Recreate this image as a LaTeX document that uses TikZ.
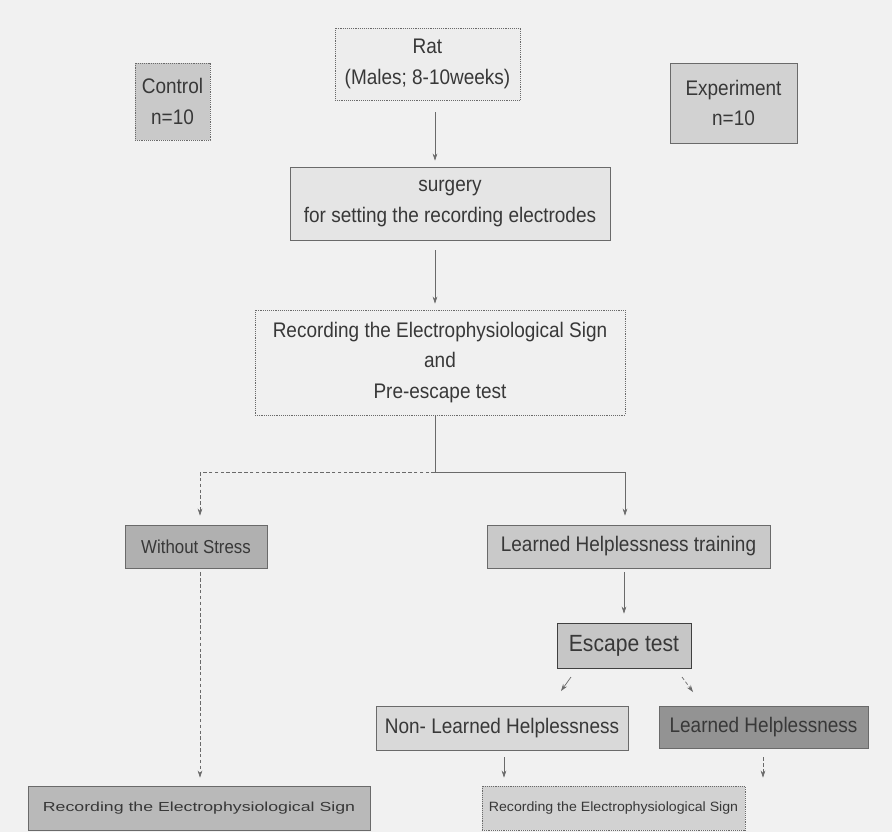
\documentclass[tikz,border=0pt]{standalone}
\usepackage{fontspec}
\setmainfont[FakeStretch=0.9]{Liberation Sans}
\newfontfamily\wideF[FakeStretch=1.35]{Liberation Sans}
\newfontfamily\midF[FakeStretch=1.05]{Liberation Sans}
\usetikzlibrary{arrows.meta}
\definecolor{bgc}{HTML}{F1F1F1}
\definecolor{txt}{HTML}{383838}
\definecolor{edge}{HTML}{6A6A6A}
\begin{document}
\begin{tikzpicture}[x=0.03cm,y=-0.03cm,
  box/.style={draw=edge, line width=0.6pt, text=txt, align=center, inner sep=2pt,
    font=\fontsize{18}{26}\selectfont},
  arr/.style={draw=edge, line width=0.6pt, -{Stealth[length=6pt,width=4pt]}},
  arrd/.style={arr, densely dashed}]
\fill[bgc] (0,0) rectangle (892,832);
\useasboundingbox (0,0) rectangle (892,832);

\node[box, densely dotted, fill=gray!42, minimum width=2.25cm, minimum height=2.31cm] (ctrl) at (172.5,101.5) {\fontsize{18}{29}\selectfont Control\\n=10};
\node[box, densely dotted, fill=gray!14, minimum width=5.55cm, minimum height=2.16cm] (rat) at (427.5,64) {Rat\\(Males; 8-10weeks)};
\node[box, fill=gray!35, minimum width=3.81cm, minimum height=2.4cm] (exp) at (733.5,103) {\fontsize{18}{29}\selectfont Experiment\\n=10};
\node[box, fill=gray!20, minimum width=9.6cm, minimum height=2.19cm] (surg) at (450,203.5) {surgery\\for setting the recording electrodes};
\node[box, densely dotted, fill=gray!12, minimum width=11.1cm, minimum height=3.15cm] (rec) at (440,362.5) {Recording the Electrophysiological Sign\\and\\Pre-escape test};
\node[box, fill=gray!62, minimum width=4.26cm, minimum height=1.29cm] (ws) at (196,546.5) {\fontsize{16}{18}\selectfont Without Stress};
\node[box, fill=gray!42, minimum width=8.49cm, minimum height=1.29cm] (lht) at (628.5,546.5) {Learned Helplessness training};
\node[box, draw=black!75, fill=gray!45, minimum width=4.02cm, minimum height=1.35cm] (esc) at (624,645.5) {\fontsize{20}{22}\selectfont Escape test};
\node[box, fill=gray!30, minimum width=7.56cm, minimum height=1.32cm] (nlh) at (502,728) {Non- Learned Helplessness};
\node[box, fill=gray!85, minimum width=6.27cm, minimum height=1.26cm] (lh) at (763.5,727) {Learned Helplessness};
\node[box, densely dotted, fill=gray!35, minimum width=7.89cm, minimum height=1.32cm] (brec) at (613.5,808) {\midF\fontsize{11.5}{14}\selectfont Recording the Electrophysiological Sign};
\node[box, fill=gray!55, minimum width=10.26cm, minimum height=1.32cm] (blrec) at (199,808) {\wideF\fontsize{11.2}{14}\selectfont Recording the Electrophysiological Sign};

% main column
\coordinate (ax) at (435,0);
\draw[arr, shorten <=12*0.03cm, shorten >=6*0.03cm] (rat.south -| ax) -- (surg.north -| ax);
\draw[arr, shorten <=10*0.03cm, shorten >=6*0.03cm] (surg.south -| ax) -- (rec.north -| ax);

% branch
\coordinate (bj) at (435,472);
\coordinate (bl) at (200,472);
\coordinate (br) at (625,472);
\draw[draw=edge, line width=0.6pt] (rec.south -| bj) -- (bj);
\draw[draw=edge, line width=0.6pt, densely dashed] (bj) -- (bl);
\draw[draw=edge, line width=0.6pt] (bj) -- (br);
\draw[arrd, shorten >=9*0.03cm] (bl) -- (bl |- ws.north);
\draw[arr, shorten >=9*0.03cm] (br) -- (br |- lht.north);

% right chain
\draw[arr, shorten <=4*0.03cm, shorten >=9*0.03cm] (lht.south -| esc) -- (esc.north);
\coordinate (d1s) at (571,677);
\coordinate (d1e) at (561,691);
\coordinate (d2s) at (682,677);
\coordinate (d2e) at (693,692);
\draw[arr] (d1s) -- (d1e);
\draw[arrd] (d2s) -- (d2e);
\draw[arr, shorten <=7*0.03cm, shorten >=8*0.03cm] (nlh.south -| 504,0) -- (brec.north -| 504,0);
\draw[arrd, shorten <=9*0.03cm, shorten >=8*0.03cm] (lh.south -| 763,0) -- (brec.north -| 763,0);

% left chain
\draw[arrd, shorten <=4*0.03cm, shorten >=8*0.03cm] (ws.south -| bl) -- (blrec.north -| bl);
\end{tikzpicture}
\end{document}
